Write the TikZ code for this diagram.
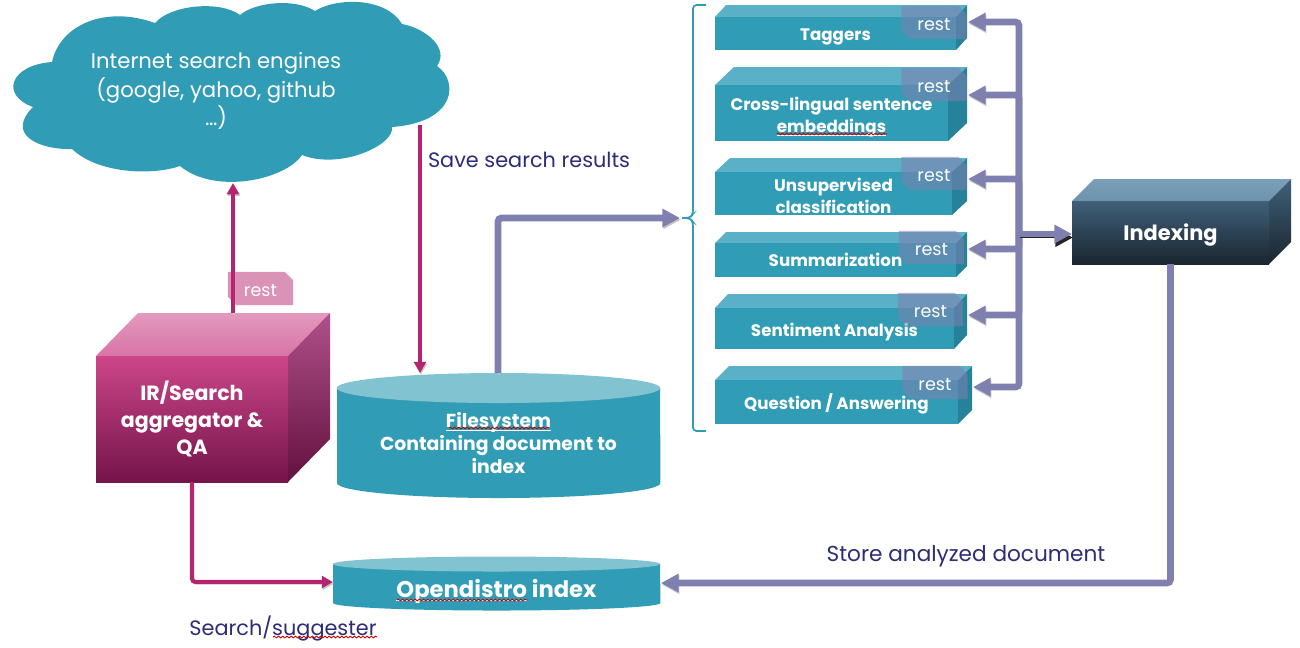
\documentclass[tikz,border=0pt]{standalone}
\usepackage{fontspec}
\setmainfont{Poppins}
\usetikzlibrary{arrows.meta,decorations.pathmorphing,shapes.misc}

\definecolor{tealface}{HTML}{319CB5}
\definecolor{tealtopface}{HTML}{5AB0C6}
\definecolor{tealsideface}{HTML}{26829A}
\definecolor{tealrim}{HTML}{82C3D2}
\definecolor{busline}{HTML}{7F7FB0}
\definecolor{pinkline}{HTML}{B5256F}
\definecolor{caption}{HTML}{2C2C78}
\definecolor{slatelight}{HTML}{7A9FB8}
\definecolor{slatemid}{HTML}{3F6079}
\definecolor{slatedark}{HTML}{1A2630}
\definecolor{pinkhigh}{HTML}{CC4689}
\definecolor{pinkdeep}{HTML}{74144A}
\definecolor{pinkmid}{HTML}{B0508A}

\newcommand{\boldsize}[2]{\bfseries\fontsize{#1}{#2}\selectfont}
\newcommand{\plainsize}[2]{\fontsize{#1}{#2}\selectfont}
\newcommand{\ruled}[1]{\sbox0{#1}\leavevmode\rlap{\rule[-1pt]{\wd0}{.25pt}}#1}
\newcommand{\boxdrop}{0}

% box: name, x1, y1, x2, y2, depth x, depth y, look, text
\newcommand{\cuboid}[9]{
  \path[#8top] (#2,#3) -- ({#2+#6},{#3-#7}) -- ({#4+#6},{#3-#7}) -- (#4,#3) -- cycle;
  \path[#8side] (#4,#3) -- ({#4+#6},{#3-#7}) -- ({#4+#6},{#5-#7}) -- (#4,#5) -- cycle;
  \node[#8front, minimum width={(#4-#2)*0.01cm}, minimum height={(#5-#3)*0.01cm}] (#1) at ({(#2+#4)/2},{(#3+#5)/2}) {};
  \node[#8text, yshift={-\boxdrop*0.2845pt}] (#1text) at (#1.center) {#9};
}
% drum: name, x1, x2, y of rim, y of side end, y radius, text y, text
\newcommand{\drum}[8]{
  \fill[tealface] (#2,#4) -- (#2,#5) arc[start angle=180, end angle=360, x radius={(#3-#2)*0.005cm}, y radius={#6*0.01cm}] -- (#3,#4) -- cycle;
  \fill[tealrim] ({(#2+#3)/2},#4) ellipse [x radius={(#3-#2)*0.005cm}, y radius={#6*0.01cm}];
  \node[drumtext] (#1) at ({(#2+#3)/2},#7) {#8};
}

\tikzset{
  purplearrow/.style={draw=busline, line width=1.9pt, rounded corners=1pt, -{Triangle[length=5pt,width=5pt]},
    preaction={draw=black!22, transform canvas={xshift=.25pt,yshift=-.5pt}}},
  pinkarrow/.style={draw=pinkline, line width=1.2pt, rounded corners=1pt, -{Triangle[length=3.2pt,width=3.4pt]},
    preaction={draw=black!22, transform canvas={xshift=.25pt,yshift=-.5pt}}},
  facenode/.style={inner sep=0pt, outer sep=0pt},
  labeltext/.style={text=white, inner sep=0pt, align=center},
  tealfront/.style={facenode, fill=tealface},
  tealtext/.style={labeltext, font=\boldsize{4.75}{6.3}},
  tealtop/.style={fill=tealtopface},
  tealside/.style={fill=tealsideface},
  pinkfront/.style={facenode, top color=pinkhigh, middle color=pinkline, bottom color=pinkdeep},
  pinktext/.style={labeltext, font=\boldsize{5.85}{7.6}},
  pinktop/.style={top color=pinkhigh!55!white, bottom color=pinkhigh!75!white},
  pinkside/.style={top color=pinkmid, bottom color=pinkdeep!85!black},
  slatefront/.style={facenode, top color=slatemid, bottom color=slatedark},
  slatetext/.style={labeltext, font=\boldsize{5.95}{7.6}},
  slatetop/.style={top color=slatelight, bottom color=slatelight!80!slatemid},
  slateside/.style={top color=slatemid, bottom color=slatedark},
  tagshape/.style={chamfered rectangle, chamfered rectangle corners={north east,south west}, chamfered rectangle sep=1.2pt, inner sep=0pt, text=white, minimum width=18.6pt, minimum height=9.4pt, text height=4.6pt, text depth=0pt, font=\plainsize{5}{6}},
  resttag/.style={tagshape, fill=busline, fill opacity=.55, text opacity=1},
  pinktag/.style={tagshape, fill=pinkline!50!white},
  drumtext/.style={labeltext, font=\boldsize{5.35}{6.5}},
  captiontext/.style={text=caption, inner sep=0pt, font=\plainsize{5.92}{7}},
  squiggle/.style={draw=red!80!black, line width=.25pt, decorate, decoration={snake, amplitude=.25pt, segment length=1.2pt}},
}

\begin{document}
\begin{tikzpicture}[x=0.01cm, y=-0.01cm]
\useasboundingbox (0,0) rectangle (1300,647);

% Cloud
\fill[tealface] (52,62) .. controls (60,25) and (105,5) .. (155,23)
  .. controls (170,5) and (220,0) .. (240,15)
  .. controls (255,2) and (295,-2) .. (315,11)
  .. controls (335,-2) and (385,-4) .. (402,24)
  .. controls (425,28) and (450,48) .. (437,66)
  .. controls (458,80) and (458,122) .. (392,127)
  .. controls (395,145) and (340,170) .. (302,155)
  .. controls (285,180) and (215,195) .. (180,166)
  .. controls (155,175) and (100,175) .. (72,149)
  .. controls (40,150) and (5,135) .. (33,107)
  .. controls (0,95) and (10,65) .. (52,62) -- cycle;
\node[text=white, align=center, inner sep=0pt, font=\plainsize{6.03}{8}] (cloud) at (216,91) {Internet search engines\\(google, yahoo, github\\\dots)};
\coordinate (cloudbottom) at (233,183);
\coordinate (cloudright) at (420,125);

% Left side
\cuboid{aggregator}{96}{356}{288}{482}{42}{43}{pink}{IR/Search\\aggregator \&\\QA}
\node[pinktag] (aggregatorrest) at (260.5,288.5) {rest};
\coordinate (aggregatortop) at (233,313);

% Stores
\drum{filesystem}{337}{660}{388}{483}{15}{443}{\ruled{Filesystem}\\Containing document to\\index}
\coordinate (filesystemin) at (420,373);
\coordinate (filesystemout) at (498,373);
\drum{opendistro}{333}{660}{564}{603}{7.5}{591}{\boldsize{6.45}{8}\ruled{Opendistro} index}
\coordinate (opendistroleft) at (333,582);
\coordinate (opendistroright) at (661,583);

% Services
\renewcommand{\boxdrop}{3}
\cuboid{taggers}{715}{17}{956}{50}{11}{12}{teal}{Taggers}
\renewcommand{\boxdrop}{4}
\cuboid{crosslingual}{715}{85}{948}{141}{19}{18}{teal}{Cross-lingual sentence\\\ruled{embeddings}}
\renewcommand{\boxdrop}{2}
\cuboid{unsupervised}{715}{172}{952}{215}{15}{14}{teal}{Unsupervised\\classification}
\renewcommand{\boxdrop}{0}
\cuboid{summarization}{715}{243}{956}{277}{11}{11}{teal}{Summarization}
\renewcommand{\boxdrop}{3}
\cuboid{sentiment}{715}{308}{954}{349}{13}{14}{teal}{Sentiment Analysis}
\renewcommand{\boxdrop}{2}
\cuboid{question}{715}{380}{958}{424}{14}{14}{teal}{Question / Answering}

\node[resttag] (taggersrest) at (934,22.5) {rest};
\node[resttag] (crosslingualrest) at (934,84.5) {rest};
\node[resttag] (unsupervisedrest) at (934,173.5) {rest};
\node[resttag] (summarizationrest) at (931.5,247.5) {rest};
\node[resttag] (sentimentrest) at (930.5,309.5) {rest};
\node[resttag] (questionrest) at (935,382.5) {rest};

\renewcommand{\boxdrop}{2.5}
\cuboid{indexing}{1072}{201}{1269}{264}{22}{22}{slate}{Indexing}

% Bracket
\coordinate (bracket) at (680,218);
\draw[tealface, line width=.5pt, rounded corners=1pt] (706,5) -- (693,5) -- (693,214) -- (690,218) -- (bracket) -- (690,218) -- (693,222) -- (693,431) -- (706,431);

% Connectors
\draw[pinkarrow] (aggregatortop) -- (cloudbottom);
\draw[pinkarrow] (cloudright) -- (filesystemin);
\draw[pinkarrow] (aggregator.south) |- (opendistroleft);
\draw[purplearrow] (filesystemout) |- (bracket);
\draw[purplearrow] (indexing.south) |- (opendistroright);

\coordinate (bus) at (1019,234);
\foreach \svc/\x/\y in {taggers/968/22, crosslingual/968/95, unsupervised/968/179, summarization/968/249, sentiment/968/315, question/973/387}{
  \coordinate (\svc port) at (\x,\y);
  \draw[purplearrow] (bus) |- (\svc port);
}
\draw[draw=busline, line width=1.9pt, -{Triangle[length=5pt,width=5pt]}, preaction={draw=black!85, transform canvas={xshift=.3pt,yshift=-1pt}}] (bus) -- (indexing.west |- bus);

% Labels
\node[captiontext] (savelabel) at (529,160) {Save search results};
\node[captiontext, font=\plainsize{6.15}{7}] (storelabel) at (966,556) {Store analyzed document};
\node[captiontext] (searchlabel) at (283,628) {Search/suggester};

% Spelling marks
\draw[squiggle] (777,134) -- (887,134);
\draw[squiggle] (449,428) -- (549,428);
\draw[squiggle] (397,600) -- (528,600);
\draw[squiggle] (273,637) -- (377,637);
\end{tikzpicture}
\end{document}
